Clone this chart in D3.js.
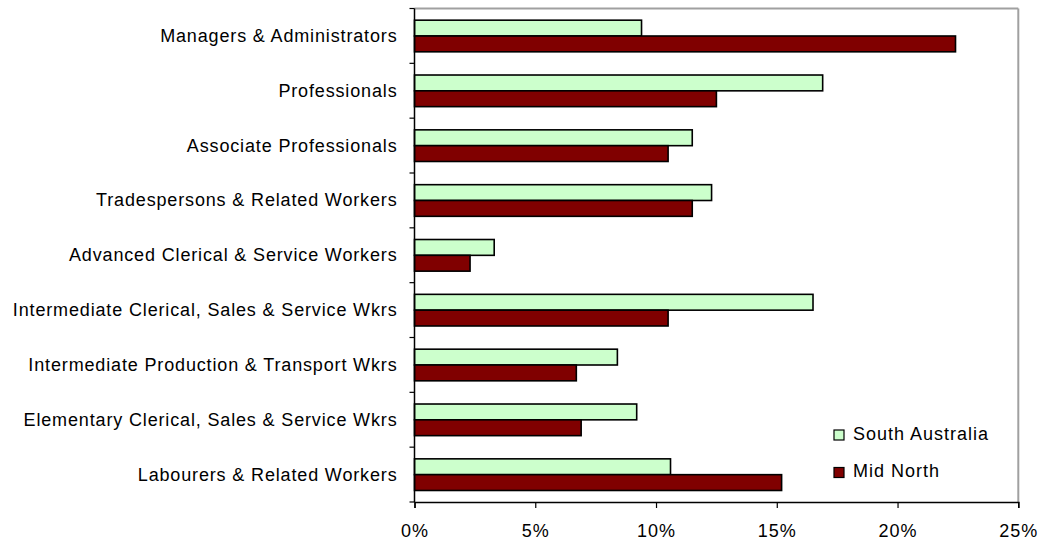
<!DOCTYPE html>
<html>
<head>
<meta charset="utf-8">
<script src="https://cdn.jsdelivr.net/npm/d3@7"></script>
<style>
  body { margin: 0; background: #fff; }
  text { font-family: "Liberation Sans", Arial, sans-serif; fill: #000; }
</style>
</head>
<body>
<div id="chart"></div>
<script>
// occupation categories, top to bottom
var categories = [
  "Managers & Administrators",
  "Professionals",
  "Associate Professionals",
  "Tradespersons & Related Workers",
  "Advanced Clerical & Service Workers",
  "Intermediate Clerical, Sales & Service Wkrs",
  "Intermediate Production & Transport Wkrs",
  "Elementary Clerical, Sales & Service Wkrs",
  "Labourers & Related Workers"
];
var seriesNames = ["South Australia", "Mid North"];
var southAustralia = [9.4, 16.9, 11.5, 12.3, 3.3, 16.5, 8.4, 9.2, 10.6];
var midNorth = [22.4, 12.5, 10.5, 11.5, 2.3, 10.5, 6.7, 6.9, 15.2];
var xTicks = [0, 5, 10, 15, 20, 25];

var colors = {"South Australia": "#ccffcc", "Mid North": "#800000"};

var W = 1039, H = 542;
var margin = {top: 8.5, right: 20.7, bottom: 40, left: 414.5},
    width = W - margin.left - margin.right,
    height = H - margin.top - margin.bottom;

var svg = d3.select("#chart").append("svg")
    .attr("width", W)
    .attr("height", H);

var g = svg.append("g")
    .attr("transform", "translate(" + margin.left + "," + margin.top + ")");

var x = d3.scaleLinear().domain([0, 25]).range([0, width]);
var y = d3.scaleBand().domain(categories).range([0, height]);
// two bars inside each category band
var yInner = d3.scaleBand().domain(seriesNames)
    .range([y.bandwidth() * 0.213, y.bandwidth() * 0.79]);

var rows = categories.map(function(c, i) {
  return {cat: c, values: [
    {name: "South Australia", value: southAustralia[i]},
    {name: "Mid North", value: midNorth[i]}
  ]};
});

// gray frame top and right
g.append("line")
    .attr("x1", 0).attr("x2", width).attr("y1", 0).attr("y2", 0)
    .attr("stroke", "#a0a0a0").attr("stroke-width", 2);
g.append("line")
    .attr("x1", width).attr("x2", width).attr("y1", 0).attr("y2", height)
    .attr("stroke", "#a0a0a0").attr("stroke-width", 2);

// bars
var groups = g.selectAll(".cat")
    .data(rows)
  .enter().append("g")
    .attr("class", "cat")
    .attr("transform", function(d) { return "translate(0," + y(d.cat) + ")"; });

groups.selectAll("rect")
    .data(function(d) { return d.values; })
  .enter().append("rect")
    .attr("x", 0)
    .attr("y", function(d) { return yInner(d.name); })
    .attr("width", function(d) { return x(d.value); })
    .attr("height", yInner.bandwidth())
    .attr("fill", function(d) { return colors[d.name]; })
    .attr("stroke", "#000")
    .attr("stroke-width", 1.6);

// y axis: ticks at category boundaries
var yAxis = g.append("g").attr("class", "axis axis--y");
yAxis.append("line")
    .attr("x1", 0).attr("x2", 0).attr("y1", 0).attr("y2", height)
    .attr("stroke", "#000").attr("stroke-width", 1.5);
yAxis.selectAll(".tick")
    .data(d3.range(categories.length + 1))
  .enter().append("line")
    .attr("x1", -5).attr("x2", 0)
    .attr("y1", function(i) { return i * y.step(); })
    .attr("y2", function(i) { return i * y.step(); })
    .attr("stroke", "#000").attr("stroke-width", 1.2);
yAxis.selectAll(".lbl")
    .data(categories)
  .enter().append("text")
    .attr("class", "lbl")
    .attr("x", -17)
    .attr("y", function(d) { return y(d) + y.bandwidth() / 2; })
    .attr("dy", "0.33em")
    .attr("text-anchor", "end")
    .style("font-size", "18px")
    .style("letter-spacing", "0.85px")
    .text(function(d) { return d; });

// x axis
g.append("g")
    .attr("class", "axis axis--x")
    .attr("transform", "translate(0," + height + ")")
    .call(d3.axisBottom(x).tickValues(xTicks).tickSize(6).tickPadding(16)
      .tickFormat(function(d) { return d + "%"; }))
    .call(function(a) {
      a.select(".domain").attr("stroke", "#000").attr("stroke-width", 1.5);
      a.selectAll(".tick line").attr("stroke", "#000").attr("stroke-width", 1.2);
      a.selectAll(".tick text")
        .style("font-size", "18px")
        .style("letter-spacing", "1px")
        .style("font-family", "'Liberation Sans', Arial, sans-serif")
        .attr("fill", "#000");
    });

// legend
var legend = svg.append("g")
    .attr("class", "legend")
    .attr("transform", "translate(834,430)")
  .selectAll("g")
    .data(seriesNames)
  .enter().append("g")
    .attr("transform", function(d, i) { return "translate(0," + i * 37.5 + ")"; });
legend.append("rect")
    .attr("width", 10)
    .attr("height", 10)
    .attr("fill", function(d) { return colors[d]; })
    .attr("stroke", "#000")
    .attr("stroke-width", 1.2);
legend.append("text")
    .attr("x", 19)
    .attr("y", 9.5)
    .style("font-size", "18px")
    .style("letter-spacing", "1px")
    .text(function(d) { return d; });
</script>
</body>
</html>
